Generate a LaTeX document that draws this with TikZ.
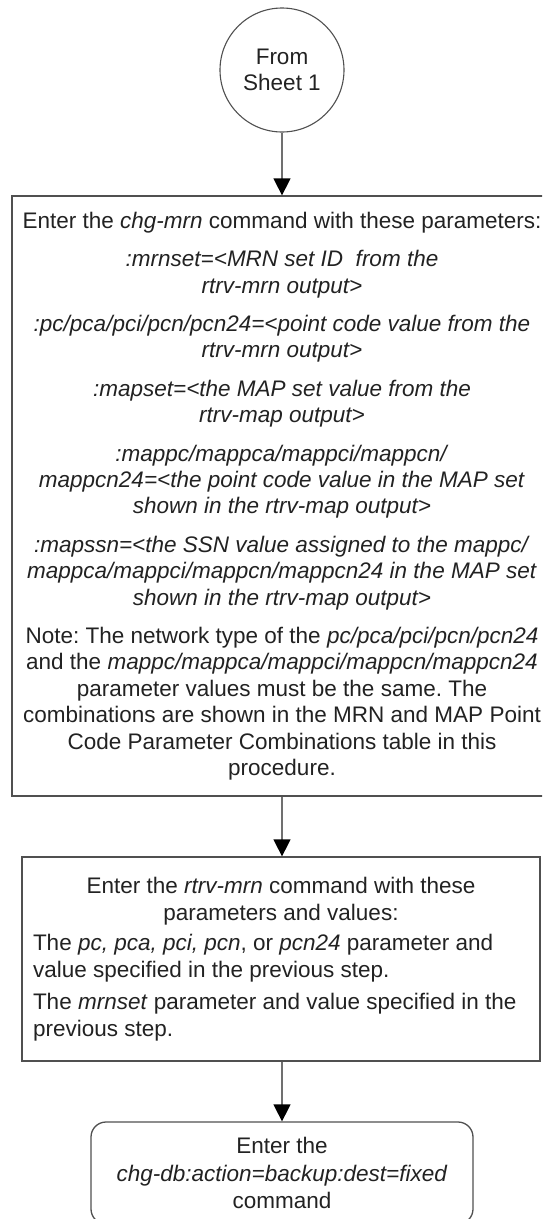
\documentclass[tikz,border=0pt]{standalone}
\usepackage{fontspec}
\setmainfont{Liberation Sans}
\usetikzlibrary{arrows.meta}
\definecolor{linegray}{HTML}{505050}
\definecolor{arrowgray}{HTML}{707070}
\definecolor{textblack}{HTML}{222222}
\frenchspacing
\begin{document}
\begin{tikzpicture}[x=1pt,y=-1pt,
  boxstyle/.style={draw=linegray, line width=1.3pt, inner sep=0pt, text=textblack},
  conn/.style={draw=arrowgray, line width=1.5pt, -{Triangle[width=17pt,length=17pt,color=black]}}]
\path[use as bounding box, clip] (0,0) rectangle (542,1219);

\node[circle, boxstyle, line width=1.1pt, minimum size=124pt, align=center,
      font=\fontsize{22.5}{26}\selectfont] (start) at (282,70) {From\\Sheet 1};

\node[boxstyle, minimum width=540pt, minimum height=600pt, align=center,
      font=\fontsize{22.5}{26.4}\selectfont] (b1) at (282,496)
{Enter the \textit{chg-mrn} command with these parameters:\\[12pt]
\textit{:mrnset=<MRN set ID\ \ from the}\\
\textit{rtrv-mrn output>}\\[12pt]
\textit{:pc/pca/pci/pcn/pcn24=<point code value from the}\\
\textit{rtrv-mrn output>}\\[12pt]
\textit{:mapset=<the MAP set value from the}\\
\textit{rtrv-map output>}\\[12pt]
\textit{:mappc/mappca/mappci/mappcn/}\\
\textit{mappcn24=<the point code value in the MAP set}\\
\textit{shown in the rtrv-map output>}\\[12pt]
\textit{:mapssn=<the SSN value assigned to the mappc/}\\
\textit{mappca/mappci/mappcn/mappcn24 in the MAP set}\\
\textit{shown in the rtrv-map output>}\\[12pt]
Note: The network type of the \textit{pc/pca/pci/pcn/pcn24}\\
and the \textit{mappc/mappca/mappci/mappcn/mappcn24}\\
parameter values must be the same. The\\
combinations are shown in the MRN and MAP Point\\
Code Parameter Combinations table in this\\
procedure.};

\node[boxstyle, minimum width=518pt, minimum height=204pt,
      font=\fontsize{22.5}{27}\selectfont] (b2) at (281,959)
{\parbox{496pt}{\centering Enter the \textit{rtrv-mrn} command with these\\
parameters and values:\par\vspace{3pt}
\raggedright The \textit{pc, pca, pci, pcn}, or \textit{pcn24} parameter and\\
value specified in the previous step.\par\vspace{5pt}
The \textit{mrnset} parameter and value specified in the\\
previous step.\par}};

\node[boxstyle, rounded corners=15pt, minimum width=382pt, minimum height=102pt,
      align=center, font=\fontsize{22.5}{27.5}\selectfont] (b3) at (282,1173)
{Enter the\\ \textit{chg-db:action=backup:dest=fixed}\\ command};

\draw[conn] (start.south) -- (b1.north);
\draw[conn] (b1.south) -- (b1.south |- b2.north);
\draw[conn] (b3.north |- b2.south) -- (b3.north);
\end{tikzpicture}
\end{document}
